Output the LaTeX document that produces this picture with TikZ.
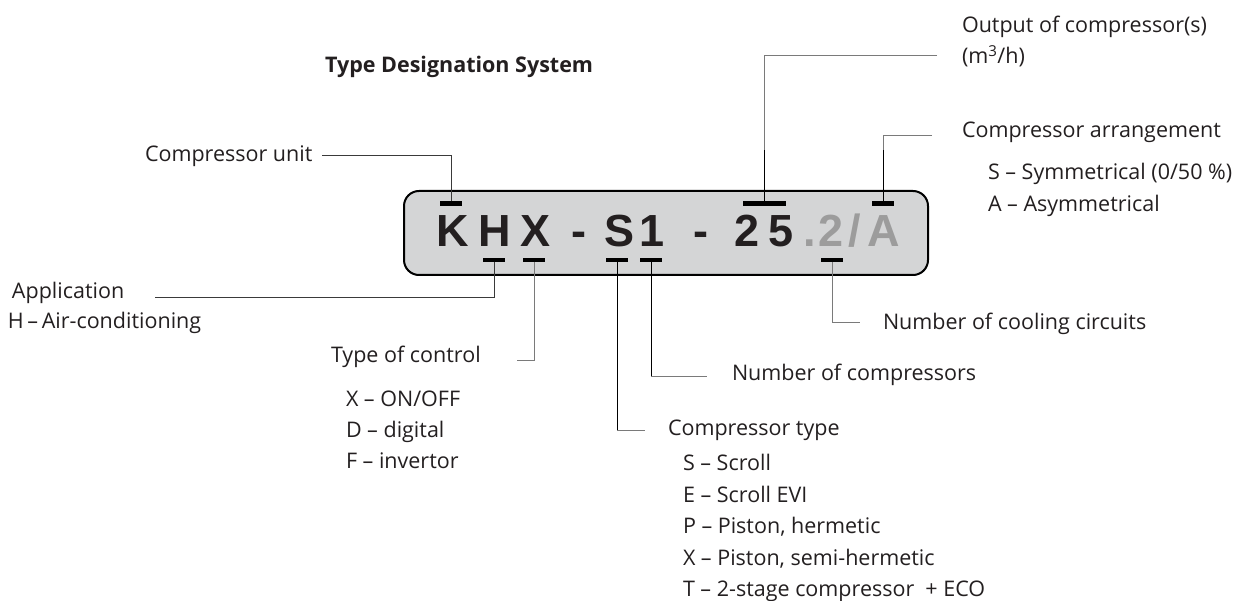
\documentclass[tikz,border=0pt]{standalone}
\usepackage{fontspec}
\setmainfont{Open Sans}
\newfontfamily\bigfont{Liberation Sans}
\definecolor{txt}{HTML}{231F20}
\definecolor{lgray}{HTML}{9C9C9C}
\definecolor{boxfill}{HTML}{D4D5D6}
\definecolor{leadgray}{HTML}{7A7A7A}
\definecolor{leaddark}{HTML}{3A3A3A}
\tikzset{
  lbl/.style={anchor=base west, inner sep=0pt, outer sep=0pt, text=txt, font=\fontsize{21.5}{26}\selectfont},
  ttl/.style={lbl, font=\bfseries\fontsize{21.5}{26}\selectfont},
  bigch/.style={anchor=base, inner sep=0pt, outer sep=0pt, text=txt, font=\bigfont\bfseries\fontsize{45}{50}\selectfont},
  bigchg/.style={bigch, text=lgray},
  bar/.style={fill=black, inner sep=0pt, outer sep=0pt, minimum width=22, minimum height=4.5},
  lead/.style={draw=leadgray, line width=1},
  leadk/.style={draw=leaddark, line width=1},
  leadb/.style={draw=black, line width=1},
  codebox/.style={draw=black, line width=2, fill=boxfill, rounded corners=15},
}
\begin{document}
\begin{tikzpicture}[x=1pt, y=-1pt]
\useasboundingbox (0,0) rectangle (1260,601);

% code box
\draw[codebox] (404,191) rectangle (928,275);
\coordinate (boxtop) at (404,150);

% big characters
\node[bigch]  (chK)  at (453,247) {K};
\node[bigch]  (chH)  at (495,247) {H};
\node[bigch]  (chX)  at (535,247) {X};
\node[bigch]  (chD1) at (578.5,247) {-};
\node[bigch]  (chS)  at (619,247) {S};
\node[bigch]  (ch1)  at (652,247) {1};
\node[bigch]  (chD2) at (701,247) {-};
\node[bigch]  (ch2)  at (747.5,247) {2};
\node[bigch]  (ch5)  at (781.5,247) {5};
\node[bigchg] (chP)  at (810,247) {.};
\node[bigchg] (ch2b) at (831,247) {2};
\node[bigchg] (chSl) at (855,247) {/};
\node[bigchg] (chA)  at (884,247) {A};

% marker bars
\node[bar] (barK) at (451,203.5) {};
\node[bar, minimum width=43] (bar25) at (764.5,203.5) {};
\node[bar] (barA) at (883,203.5) {};
\node[bar] (barH) at (494,260) {};
\node[bar] (barX) at (534,260) {};
\node[bar] (barS) at (617,260) {};
\node[bar] (bar1) at (651,260) {};
\node[bar] (barC) at (832,260) {};

% title
\node[ttl] (title) at (325,73) {Type Designation System};

% labels
\node[lbl] (tUnit) at (145,162) {Compressor unit};
\node[lbl] (tOut1) at (962,33) {Output of compressor(s)};
\node[lbl] (tOut2) at (962,64) {(m\textsuperscript{3}/h)};
\node[lbl] (tArr)  at (962,138) {Compressor arrangement};
\node[lbl] (tArrS) at (988,180) {S -- Symmetrical (0/50 \%)};
\node[lbl] (tArrA) at (988,212) {A -- Asymmetrical};
\node[lbl] (tApp)  at (12,299) {Application};
\node[lbl] (tAppH) at (8,328) {H\,--\,Air-conditioning};
\node[lbl] (tCirc) at (883,330) {Number of cooling circuits};
\node[lbl] (tCtl)  at (331,362) {Type of control};
\node[lbl] (tCtlX) at (346,406) {X -- ON/OFF};
\node[lbl] (tCtlD) at (346,437) {D -- digital};
\node[lbl] (tCtlF) at (346,468) {F -- invertor};
\node[lbl] (tNum)  at (732,380) {Number of compressors};
\node[lbl] (tType) at (668,435) {Compressor type};
\node[lbl] (tTypS) at (683,470) {S -- Scroll};
\node[lbl] (tTypE) at (683,502) {E -- Scroll EVI};
\node[lbl] (tTypP) at (683,533) {P -- Piston, hermetic};
\node[lbl] (tTypX) at (683,565) {X -- Piston, semi-hermetic};
\node[lbl] (tTypT) at (683,596) {T -- 2-stage compressor\ \ + ECO};

% leader end points
\coordinate (eUnit) at (322,156);
\coordinate (eOut)  at (937,56);
\coordinate (eArr)  at (932,136);
\coordinate (eApp)  at (155,298);
\coordinate (eCtl)  at (517,360);
\coordinate (eType) at (645,430);
\coordinate (eNum)  at (707,376);
\coordinate (eCirc) at (860,323);

% leaders
\draw[leadk] (eUnit) -| (barK);
\draw[lead]  (eOut) -| (bar25);
\draw[leadb] (bar25.north) -- (bar25.north |- boxtop);
\draw[lead]  (eArr) -| (barA);
\draw[leadb] (barA.north) -- (barA.north |- boxtop);
\draw[leadk] (barH) |- (eApp);
\draw[lead]  (barX) |- (eCtl);
\draw[lead]  (barS) |- (eType);
\draw[leadb] (barS.south) -- (barS.south |- eType);
\draw[lead]  (bar1) |- (eNum);
\draw[leadb] (bar1.south) -- (bar1.south |- eNum);
\draw[lead]  (barC) |- (eCirc);
\end{tikzpicture}
\end{document}
